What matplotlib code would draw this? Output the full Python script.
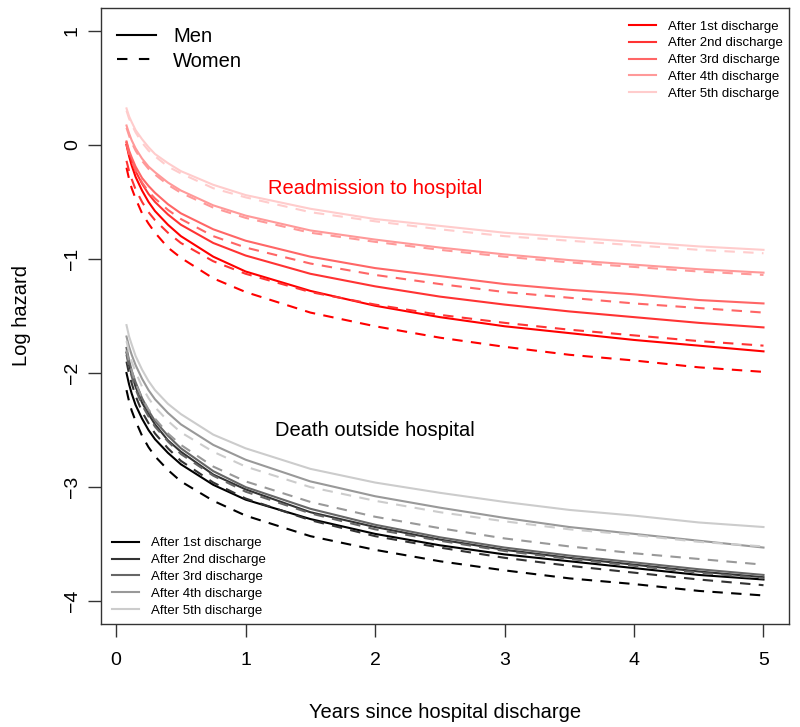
import matplotlib
matplotlib.use("Agg")
import matplotlib.pyplot as plt
from matplotlib.lines import Line2D

plt.rcParams['font.family'] = ['Liberation Sans', 'DejaVu Sans']

years = [0.08, 0.1, 0.12, 0.15, 0.2, 0.25, 0.3, 0.4, 0.5, 0.75,
         1, 1.5, 2, 2.5, 3, 3.5, 4, 4.5, 5]

# Readmission to hospital, log hazard (men / women), after 1st..5th discharge
readm_men_1 = [0.00, -0.10, -0.18, -0.28, -0.40, -0.50, -0.58, -0.70, -0.80, -0.98, -1.11, -1.28, -1.41, -1.51, -1.59, -1.65, -1.71, -1.76, -1.81]
readm_men_2 = [0.02, -0.07, -0.14, -0.23, -0.34, -0.43, -0.50, -0.61, -0.70, -0.86, -0.97, -1.13, -1.24, -1.33, -1.40, -1.46, -1.51, -1.56, -1.60]
readm_men_3 = [0.03, -0.05, -0.11, -0.19, -0.29, -0.36, -0.42, -0.52, -0.60, -0.74, -0.84, -0.98, -1.08, -1.15, -1.22, -1.27, -1.31, -1.36, -1.39]
readm_men_4 = [0.17, 0.10, 0.04, -0.03, -0.12, -0.19, -0.24, -0.33, -0.40, -0.53, -0.62, -0.75, -0.83, -0.90, -0.96, -1.01, -1.05, -1.09, -1.12]
readm_men_5 = [0.32, 0.25, 0.20, 0.13, 0.05, -0.02, -0.08, -0.16, -0.23, -0.35, -0.44, -0.56, -0.65, -0.71, -0.77, -0.81, -0.85, -0.89, -0.92]

readm_women_1 = [-0.20, -0.30, -0.38, -0.47, -0.60, -0.69, -0.77, -0.90, -0.99, -1.17, -1.29, -1.47, -1.59, -1.69, -1.77, -1.84, -1.89, -1.95, -1.99]
readm_women_2 = [-0.14, -0.23, -0.30, -0.39, -0.50, -0.59, -0.66, -0.77, -0.86, -1.02, -1.13, -1.29, -1.40, -1.49, -1.56, -1.62, -1.67, -1.72, -1.76]
readm_women_3 = [0.00, -0.08, -0.14, -0.22, -0.33, -0.41, -0.47, -0.57, -0.65, -0.80, -0.90, -1.04, -1.14, -1.22, -1.29, -1.34, -1.39, -1.43, -1.47]
readm_women_4 = [0.15, 0.08, 0.02, -0.05, -0.14, -0.21, -0.26, -0.35, -0.42, -0.55, -0.64, -0.77, -0.85, -0.92, -0.98, -1.03, -1.07, -1.11, -1.14]
readm_women_5 = [0.30, 0.23, 0.18, 0.11, 0.02, -0.05, -0.10, -0.19, -0.25, -0.38, -0.46, -0.59, -0.67, -0.74, -0.80, -0.84, -0.88, -0.92, -0.95]

# Death outside hospital, log hazard
death_men_1 = [-2.00, -2.10, -2.18, -2.28, -2.40, -2.50, -2.58, -2.70, -2.80, -2.98, -3.11, -3.28, -3.41, -3.51, -3.59, -3.65, -3.71, -3.77, -3.81]
death_men_2 = [-1.82, -1.93, -2.01, -2.12, -2.26, -2.36, -2.45, -2.59, -2.69, -2.89, -3.02, -3.22, -3.35, -3.46, -3.55, -3.62, -3.68, -3.74, -3.79]
death_men_3 = [-1.78, -1.89, -1.98, -2.08, -2.22, -2.33, -2.42, -2.55, -2.66, -2.86, -3.00, -3.19, -3.33, -3.44, -3.53, -3.60, -3.66, -3.72, -3.77]
death_men_4 = [-1.68, -1.77, -1.84, -1.93, -2.05, -2.15, -2.23, -2.35, -2.45, -2.63, -2.76, -2.95, -3.08, -3.18, -3.27, -3.35, -3.41, -3.47, -3.53]
death_men_5 = [-1.58, -1.68, -1.75, -1.85, -1.97, -2.07, -2.15, -2.27, -2.36, -2.54, -2.66, -2.84, -2.96, -3.05, -3.13, -3.20, -3.25, -3.31, -3.35]

death_women_1 = [-2.15, -2.25, -2.33, -2.42, -2.55, -2.65, -2.73, -2.85, -2.95, -3.12, -3.25, -3.43, -3.55, -3.65, -3.73, -3.80, -3.85, -3.91, -3.95]
death_women_2 = [-1.90, -2.01, -2.09, -2.20, -2.34, -2.44, -2.53, -2.66, -2.77, -2.96, -3.10, -3.29, -3.43, -3.53, -3.62, -3.69, -3.75, -3.81, -3.86]
death_women_3 = [-1.84, -1.95, -2.03, -2.14, -2.28, -2.38, -2.47, -2.60, -2.71, -2.90, -3.04, -3.23, -3.37, -3.47, -3.56, -3.63, -3.69, -3.75, -3.80]
death_women_4 = [-1.80, -1.90, -1.98, -2.09, -2.22, -2.32, -2.40, -2.53, -2.63, -2.82, -2.95, -3.13, -3.26, -3.36, -3.45, -3.52, -3.58, -3.63, -3.68]
death_women_5 = [-1.72, -1.82, -1.90, -1.99, -2.12, -2.22, -2.30, -2.42, -2.52, -2.69, -2.82, -3.00, -3.12, -3.22, -3.30, -3.37, -3.42, -3.48, -3.52]

discharge_labels = ["After 1st discharge", "After 2nd discharge", "After 3rd discharge",
                    "After 4th discharge", "After 5th discharge"]

readm_men = [readm_men_1, readm_men_2, readm_men_3, readm_men_4, readm_men_5]
readm_women = [readm_women_1, readm_women_2, readm_women_3, readm_women_4, readm_women_5]
death_men = [death_men_1, death_men_2, death_men_3, death_men_4, death_men_5]
death_women = [death_women_1, death_women_2, death_women_3, death_women_4, death_women_5]

red_cols = ['#ff0000', '#ff3333', '#ff6666', '#ff9999', '#ffcccc']
grey_cols = ['#000000', '#333333', '#666666', '#999999', '#cccccc']

lw = 1.5
dash = (5, 4)
big = 14.5

fig = plt.figure(figsize=(8, 7.27), dpi=100)
ax = fig.add_axes([0.12625, 0.1417, 0.86, 0.8473])

# Draw curves
for i in range(5):
    ax.plot(years, readm_men[i], color=red_cols[i], lw=lw)
    ax.plot(years, readm_women[i], color=red_cols[i], lw=lw, ls=(0, dash))
for i in range(5):
    ax.plot(years, death_men[i], color=grey_cols[i], lw=lw)
    ax.plot(years, death_women[i], color=grey_cols[i], lw=lw, ls=(0, dash))

ax.set_xlim(-0.117, 5.197)
ax.set_ylim(-4.2, 1.2)
ax.set_xticks([0, 1, 2, 3, 4, 5])
ax.set_yticks([-4, -3, -2, -1, 0, 1])
ax.tick_params(direction='out', length=9.5, width=1, labelsize=14, color='#333333')
ax.tick_params(axis='x', pad=11)
ax.tick_params(axis='y', pad=5)
for lab in ax.get_yticklabels():
    lab.set_rotation(90)
    lab.set_va('center')
for sp in ax.spines.values():
    sp.set_linewidth(1.0)
    sp.set_color('#333333')

ax.set_xlabel('Years since hospital discharge', fontsize=big, labelpad=24)
ax.set_ylabel('Log hazard', fontsize=big, labelpad=24)

# Curve group labels
ax.text(2.0, -0.38, 'Readmission to hospital', color='#ff0000', fontsize=big,
        ha='center', va='center')
ax.text(2.0, -2.5, 'Death outside hospital', color='black', fontsize=big,
        ha='center', va='center')

# Legends
sex_handles = [Line2D([], [], color='black', lw=lw),
               Line2D([], [], color='black', lw=lw, ls=(0, (5, 5.5)))]
leg1 = ax.legend(sex_handles, ['Men', 'Women'], loc='upper left',
                 bbox_to_anchor=(0.023, 0.969), frameon=False, fontsize=big,
                 handlelength=1.95, handletextpad=0.85, labelspacing=0.27,
                 borderpad=0, borderaxespad=0)
ax.add_artist(leg1)

red_handles = [Line2D([], [], color=c, lw=lw) for c in red_cols]
leg2 = ax.legend(red_handles, discharge_labels, loc='upper left',
                 bbox_to_anchor=(0.767, 0.980), frameon=False, fontsize=9.5,
                 handlelength=2.05, handletextpad=0.9, labelspacing=0.35,
                 borderpad=0, borderaxespad=0)
ax.add_artist(leg2)

grey_handles = [Line2D([], [], color=c, lw=lw) for c in grey_cols]
ax.legend(grey_handles, discharge_labels, loc='upper left',
          bbox_to_anchor=(0.016, 0.141), frameon=False, fontsize=9.5,
          handlelength=2.05, handletextpad=0.9, labelspacing=0.35,
          borderpad=0, borderaxespad=0)

fig.savefig('out.png', dpi=100)
